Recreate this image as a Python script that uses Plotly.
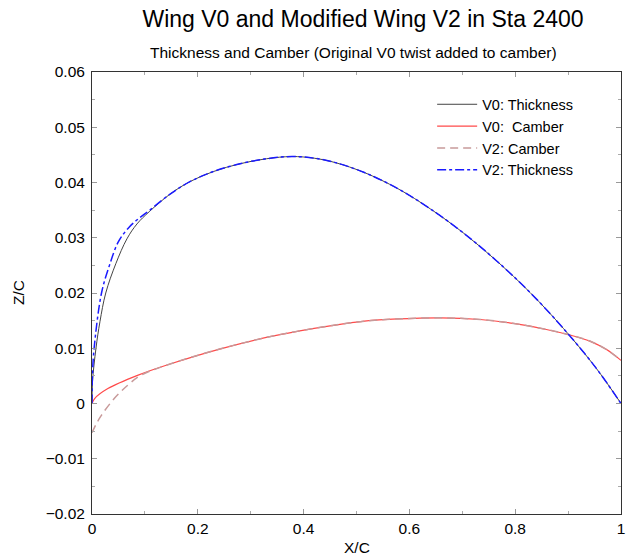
import plotly.graph_objects as go

# V0 thickness
x_t0 = [0, 0.001, 0.0075, 0.015, 0.026, 0.045, 0.066, 0.085, 0.108, 0.149, 0.186, 0.230, 0.280,
        0.330, 0.378, 0.420, 0.460, 0.515, 0.578, 0.640, 0.703, 0.765, 0.828, 0.891, 0.953, 1.0]
y_t0 = [0, 0.0040, 0.0100, 0.0148, 0.0200, 0.0253, 0.0298, 0.0325, 0.0347, 0.0380, 0.0402, 0.0420, 0.0434,
        0.0443, 0.0447, 0.0444, 0.0436, 0.0418, 0.0389, 0.0352, 0.0308, 0.0258, 0.0201, 0.0136, 0.0064, 0.0]

# V0 camber
x_c0 = [0, 0.005, 0.030, 0.086, 0.149, 0.243, 0.336, 0.390, 0.453, 0.515, 0.578, 0.659,
        0.734, 0.797, 0.859, 0.903, 0.941, 0.972, 1.0]
y_c0 = [0, 0.0009, 0.0027, 0.0051, 0.0072, 0.0099, 0.0121, 0.0131, 0.0141, 0.0149, 0.0153, 0.0155,
        0.0152, 0.0145, 0.0134, 0.0124, 0.0113, 0.0098, 0.0078]

# V2 camber
x_c2 = [0, 0.008, 0.018, 0.042, 0.0675, 0.0925, 0.149, 0.243, 0.336, 0.390, 0.453, 0.515, 0.578,
        0.659, 0.734, 0.797, 0.859, 0.903, 0.941, 0.972, 1.0]
y_c2 = [-0.0053, -0.0037, -0.0021, 0.0009, 0.0033, 0.0051, 0.0072, 0.0099, 0.0121, 0.0131, 0.0141,
        0.0149, 0.0153, 0.0155, 0.0152, 0.0145, 0.0134, 0.0124, 0.0113, 0.0098, 0.0078]

# V2 thickness
x_t2 = [0, 0.001, 0.004, 0.018, 0.033, 0.050, 0.071, 0.090, 0.108, 0.149, 0.186, 0.230, 0.280,
        0.330, 0.378, 0.420, 0.460, 0.515, 0.578, 0.640, 0.703, 0.765, 0.828, 0.891, 0.953, 1.0]
y_t2 = [0, 0.0055, 0.0100, 0.0200, 0.0250, 0.0293, 0.0320, 0.0336, 0.0349, 0.0380, 0.0402, 0.0420, 0.0434,
        0.0443, 0.0447, 0.0444, 0.0436, 0.0418, 0.0389, 0.0352, 0.0308, 0.0258, 0.0201, 0.0136, 0.0064, 0.0]

FONT = "Liberation Sans, Arial, Helvetica, sans-serif"
SM = 1.0

fig = go.Figure()
fig.add_trace(go.Scatter(x=x_t0, y=y_t0, mode="lines", name="V0: Thickness",
                         line=dict(color="#444444", width=1, shape="spline", smoothing=SM)))
fig.add_trace(go.Scatter(x=x_c0, y=y_c0, mode="lines", name="V0:  Camber",
                         line=dict(color="#ff4a4a", width=1.2, shape="spline", smoothing=SM)))
fig.add_trace(go.Scatter(x=x_c2, y=y_c2, mode="lines", name="V2: Camber",
                         line=dict(color="#c89a9a", width=1.5, dash="8px,5px", shape="spline", smoothing=SM)))
fig.add_trace(go.Scatter(x=x_t2, y=y_t2, mode="lines", name="V2: Thickness",
                         line=dict(color="#1a1aff", width=1.5, dash="dashdot", shape="spline", smoothing=SM)))

axis_common = dict(showline=True, linecolor="#333333", linewidth=1, mirror="ticks",
                   ticks="inside", ticklen=5, tickcolor="#999999", showgrid=False, zeroline=False,
                   tickfont=dict(family=FONT, size=15.5, color="black"))

fig.update_xaxes(range=[0, 1], dtick=0.2, tick0=0, ticklabeloverflow="allow",
                 minor=dict(dtick=0.1, ticks="inside", ticklen=3, tickcolor="#aaaaaa"),
                 **axis_common)
fig.update_yaxes(range=[-0.02, 0.06], dtick=0.01, tick0=0, ticklabelstandoff=3,
                 minor=dict(dtick=0.005, ticks="inside", ticklen=3, tickcolor="#aaaaaa"),
                 **axis_common)

fig.update_layout(
    width=626, height=557,
    margin=dict(l=92, r=1, t=72, b=43),
    paper_bgcolor="white", plot_bgcolor="white",
    title=dict(text="Wing V0 and Modified Wing V2 in Sta 2400",
               font=dict(family=FONT, size=23, color="black"),
               x=363 / 626, xanchor="center", xref="container",
               y=1 - 19 / 557, yanchor="middle", yref="container"),
    showlegend=True,
    legend=dict(x=0.643, y=0.963, xanchor="left", yanchor="top",
                bgcolor="rgba(0,0,0,0)", borderwidth=0,
                font=dict(family=FONT, size=14.5, color="black"),
                itemwidth=40),
    annotations=[
        dict(text="Thickness and Camber (Original V0 twist added to camber)",
             xref="paper", yref="paper", x=(355 - 92) / 533, y=1, yshift=20,
             xanchor="center", yanchor="middle",
             showarrow=False, font=dict(family=FONT, size=15.5, color="black")),
        dict(text="Z/C", xref="paper", yref="paper", x=0, y=0.5, xshift=-74,
             xanchor="center", yanchor="middle",
             textangle=-90, showarrow=False, font=dict(family=FONT, size=15.5, color="black")),
        dict(text="X/C", xref="paper", yref="paper", x=0.5, y=0, yshift=-33,
             xanchor="center", yanchor="middle",
             showarrow=False, font=dict(family=FONT, size=15.5, color="black")),
    ],
)

fig.write_html("out.html")
